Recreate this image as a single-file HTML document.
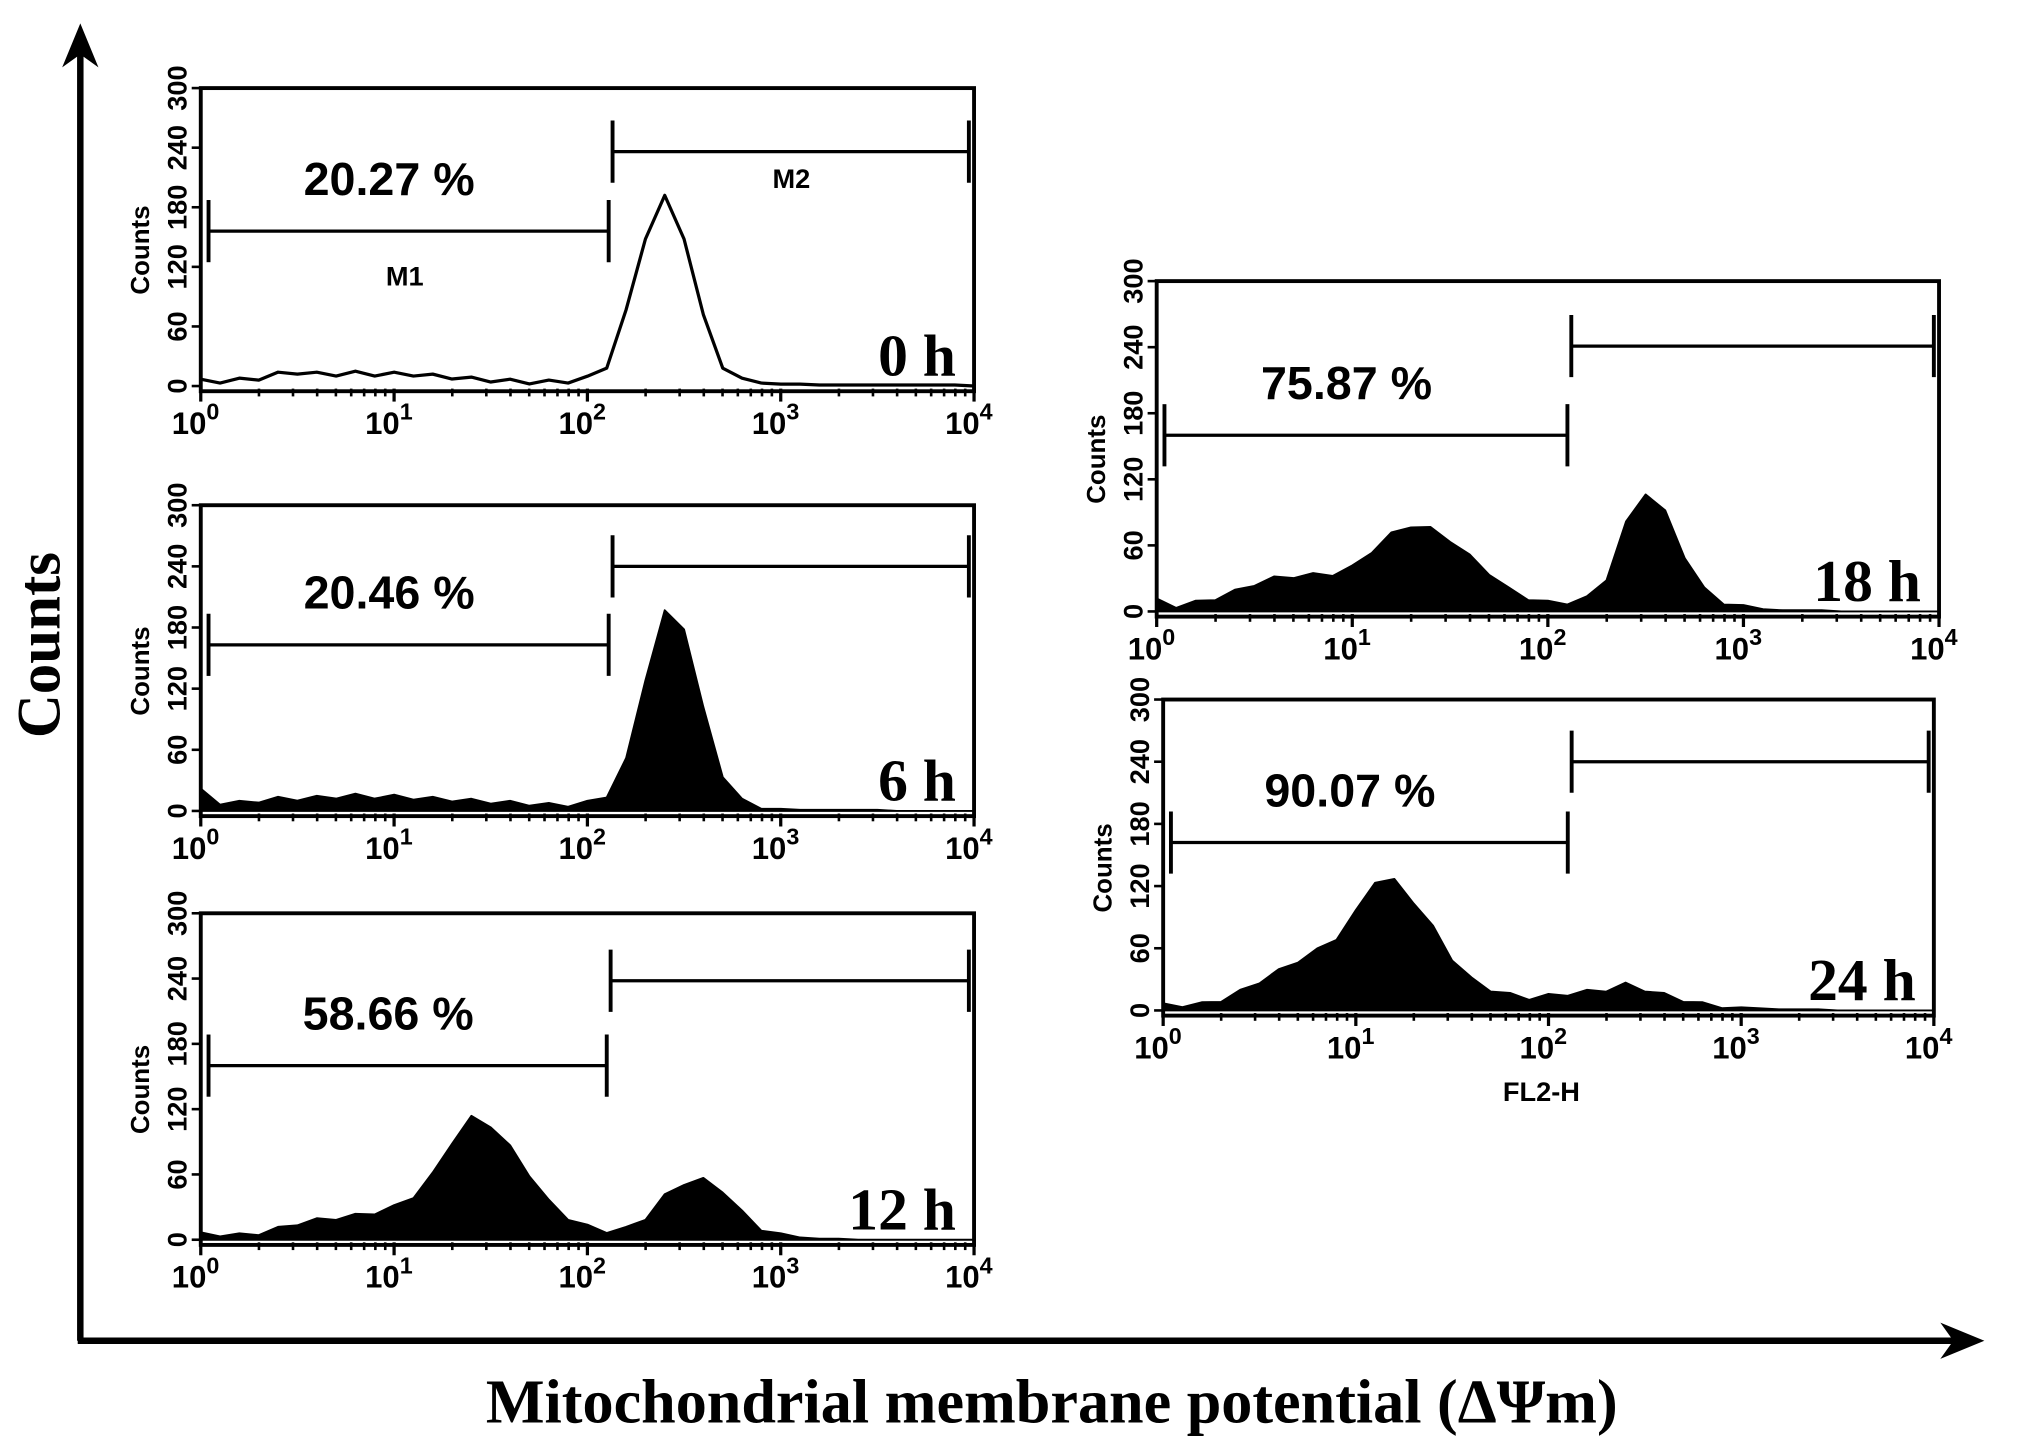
<!DOCTYPE html>
<html><head><meta charset="utf-8"><style>
html,body{margin:0;padding:0;background:#fff;}
svg{display:block;}
text{font-family:"Liberation Sans",sans-serif;}
.serif{font-family:"Liberation Serif",serif;font-weight:bold;}
</style></head><body>
<svg id="fig" width="2031" height="1447" viewBox="0 0 1568 1117" preserveAspectRatio="none" xmlns="http://www.w3.org/2000/svg">
<g>
<line x1="62" y1="1035" x2="62" y2="30" stroke="#000" stroke-width="5"/>
<polygon points="62,18 48,52 62,42 76,52" fill="#000"/>
<line x1="60" y1="1035" x2="1520" y2="1035" stroke="#000" stroke-width="5"/>
<polygon points="1532,1035 1498,1021 1508,1035 1498,1049" fill="#000"/>
</g>
<text class="serif" x="0" y="0" font-size="47" text-anchor="middle" transform="translate(46,498) rotate(-90)">Counts</text>
<text class="serif" x="812" y="1098" font-size="48" text-anchor="middle">Mitochondrial membrane potential (ΔΨm)</text>
<text x="1190" y="850" font-size="21" font-weight="bold" text-anchor="middle">FL2-H</text>
</svg>
<script>
// log-decade positions: 0.0,0.1,...,4.0 (41 bins)
const logBins = Array.from({length:41},(_, i)=>i/10);
const counts0h = [5,5,6,8,12,14,12,12,13,12,12,12,10,9,7,6,5,4,4,5,8,20,75,150,190,150,70,20,6,3,2,2,1,1,1,1,1,1,1,1,0];
const counts6h = [20,8,8,10,12,12,13,14,15,14,14,13,12,11,10,9,8,7,6,6,8,15,50,130,195,180,100,35,10,4,2,1,1,1,1,1,0,0,0,0,0];
const counts12h = [5,3,4,6,10,15,18,20,22,25,30,40,60,90,112,105,85,60,35,20,12,8,10,20,40,52,55,45,25,10,4,2,1,1,0,0,0,0,0,0,0];
const counts18h = [10,5,8,12,18,25,30,32,33,34,40,55,70,78,75,65,50,35,20,12,8,8,12,30,80,108,90,50,20,8,4,2,1,1,1,0,0,0,0,0,0];
const counts24h = [5,5,6,10,18,28,38,48,58,70,95,125,125,105,80,50,30,20,15,12,14,16,18,20,25,20,15,10,6,4,3,2,1,1,1,0,0,0,0,0,0];
const panelNames = ["0 h","6 h","12 h","18 h","24 h"];
const percentLabels = ["20.27 %","20.46 %","58.66 %","75.87 %","90.07 %"];
const gateM1Counts = [156,163,160,160,162];
const gateM2Counts = [236,240,238,241,240];
const gateSplitLog = [2.11,2.11,2.1,2.1,2.1];
const yTicks = [0,60,120,180,240,300];
const xTicks = [0,1,2,3,4];
const seriesList = [counts0h,counts6h,counts12h,counts18h,counts24h];

const NS="http://www.w3.org/2000/svg";
const svg=document.getElementById('fig');
const boxes=[
 {x0:155,x1:752,top:68,base:298,filled:false,m:true},
 {x0:155,x1:752,top:390,base:626,filled:true},
 {x0:155,x1:752,top:705,base:957,filled:true},
 {x0:893,x1:1497,top:217,base:472,filled:true},
 {x0:898,x1:1493,top:540,base:780,filled:true}
];
function mk(tag,attrs,parent){const e=document.createElementNS(NS,tag);for(const k in attrs)e.setAttribute(k,attrs[k]);(parent||svg).appendChild(e);return e;}
boxes.forEach((b,p)=>{
 const xs=v=>b.x0+(v/4)*(b.x1-b.x0);
 const ys=c=>b.base-(c/300)*(b.base-b.top);
 const g=mk('g',{});
 
 
 const frame=mk('rect',{x:b.x0,y:b.top,width:b.x1-b.x0,height:b.base-b.top+4,fill:'none',stroke:'#000','stroke-width':3},g);
 
 
 const data=seriesList[p];
 let d='M'+xs(0)+','+ys(0);
 data.forEach((c,i)=>{const jit=(i%2?1.5:-1.5);d+=' L'+xs(logBins[i]).toFixed(1)+','+(ys(c)+ (c>3?jit:0)).toFixed(1);});
 d+=' L'+xs(4)+','+ys(0);
 if(b.filled)d+=' Z';
 const h=mk('path',{d:d,fill:b.filled?'#000':'none',stroke:'#000','stroke-width':b.filled?1.5:2.5,'stroke-linejoin':'round'},g);
 
 
 yTicks.forEach(t=>{
  mk('line',{x1:b.x0-7,y1:ys(t),x2:b.x0,y2:ys(t),stroke:'#000','stroke-width':2},g);
  const tl=mk('text',{x:0,y:0,'font-size':21,'font-weight':'bold','text-anchor':'middle',transform:`translate(${b.x0-11},${ys(t)}) rotate(-90)`},g);
  tl.textContent=t;
  
  
 });
 const cl=mk('text',{x:0,y:0,'font-size':20,'font-weight':'bold','text-anchor':'middle',transform:`translate(${b.x0-40},${(b.top+b.base)/2+10}) rotate(-90)`},g);
 cl.textContent='Counts';
 
 
 xTicks.forEach(t=>{
  mk('line',{x1:xs(t),y1:b.base+2,x2:xs(t),y2:b.base+12,stroke:'#000','stroke-width':2.5},g);
  for(let k=2;k<10&&t<4;k++){const lx=xs(t+Math.log10(k));mk('line',{x1:lx,y1:b.base+2,x2:lx,y2:b.base+8,stroke:'#000','stroke-width':2},g);}
  const tl=mk('text',{x:xs(t)-4,y:b.base+37,'font-size':24,'font-weight':'bold','text-anchor':'middle'},g);
  tl.innerHTML='10<tspan dy="-11" font-size="18">'+t+'</tspan>';
  
  
 });
 const gx=xs(gateSplitLog[p]);
 const y1=ys(gateM1Counts[p]), y2=ys(gateM2Counts[p]);
 const m1=mk('g',{},g);
 
 
 mk('line',{x1:b.x0+6,y1:y1,x2:gx,y2:y1,stroke:'#000','stroke-width':2.5},m1);
 mk('line',{x1:b.x0+6,y1:y1-24,x2:b.x0+6,y2:y1+24,stroke:'#000','stroke-width':3},m1);
 mk('line',{x1:gx,y1:y1-24,x2:gx,y2:y1+24,stroke:'#000','stroke-width':3},m1);
 const m2=mk('g',{},g);
 
 
 mk('line',{x1:gx+3,y1:y2,x2:b.x1-4,y2:y2,stroke:'#000','stroke-width':2.5},m2);
 mk('line',{x1:gx+3,y1:y2-24,x2:gx+3,y2:y2+24,stroke:'#000','stroke-width':3},m2);
 mk('line',{x1:b.x1-4,y1:y2-24,x2:b.x1-4,y2:y2+24,stroke:'#000','stroke-width':3},m2);
 if(b.m){
  const a=mk('text',{x:(b.x0+gx)/2,y:y1+42,'font-size':21,'font-weight':'bold','text-anchor':'middle'},g);a.textContent='M1';
  
  
  const c=mk('text',{x:(gx+b.x1)/2,y:y2+28,'font-size':21,'font-weight':'bold','text-anchor':'middle'},g);c.textContent='M2';
  
  
 }
 const pl=mk('text',{x:(b.x0+gx)/2-12,y:y1-28,'font-size':36,'font-weight':'bold','text-anchor':'middle'},g);
 pl.textContent=percentLabels[p];
 
 
 const tl=mk('text',{x:b.x1-14,y:b.base-8,'font-size':46,'text-anchor':'end',class:'serif'},g);
 tl.textContent=panelNames[p];
 
 
});
</script>
</body></html>
